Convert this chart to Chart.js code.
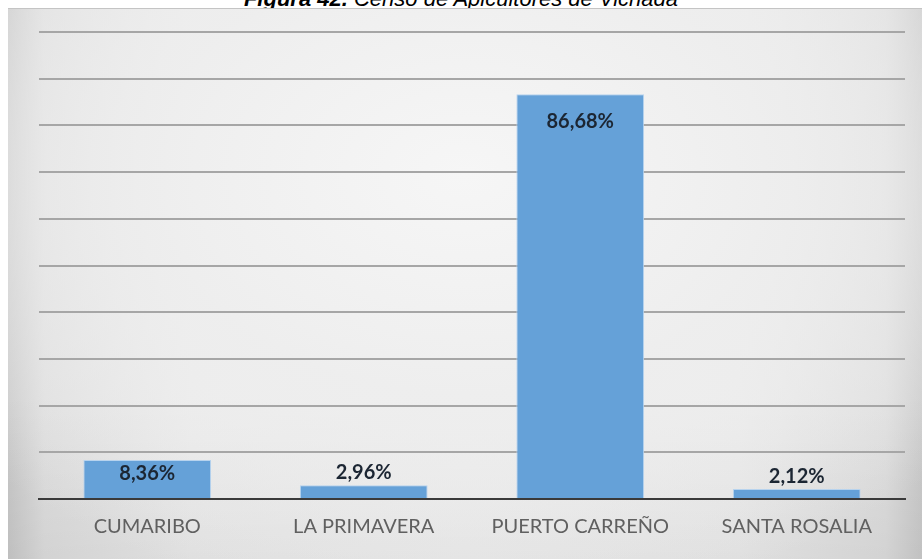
<!DOCTYPE html>
<html>
<head>
<meta charset="utf-8">
<script src="https://cdn.jsdelivr.net/npm/chart.js@4"></script>
<style>
  body {
    margin: 0;
    padding: 0;
    width: 922px;
    height: 559px;
    overflow: hidden;
    background: #ffffff;
    position: relative;
  }
  .title {
    position: absolute;
    left: 0;
    width: 922px;
    top: -14px;
    height: 26px;
    line-height: 26px;
    text-align: center;
    font-family: 'Liberation Sans', Arial, sans-serif;
    font-style: italic;
    font-size: 22px;
    color: #000;
  }
  .chart-box {
    position: absolute;
    left: 8px;
    top: 8px;
    width: 914px;
    height: 551px;
    border-top: 1px solid #c4c4c4;
    box-sizing: border-box;
    background:
      radial-gradient(ellipse 70% 80% at 50% 30%, rgba(246,246,246,1) 0%, rgba(238,238,238,0.9) 50%, rgba(220,220,220,0) 100%),
      linear-gradient(to bottom, rgba(0,0,0,0) 70%, rgba(0,0,0,0.05) 100%),
      linear-gradient(to right, #c9c9c9 0%, #dedede 4%, #ebebeb 20%, #eeeeee 50%, #ebebeb 80%, #dedede 96%, #cbcbcb 100%);
  }
  canvas {
    display: block;
  }
</style>
</head>
<body>
  <div class="title"><b>Figura 42.</b> Censo de Apicultores de Vichada</div>
  <div class="chart-box">
    <canvas id="barChart" width="914" height="550"></canvas>
  </div>
  <script>
    const categories = ['CUMARIBO', 'LA PRIMAVERA', 'PUERTO CARREÑO', 'SANTA ROSALIA'];
    const percentages = [8.36, 2.96, 86.68, 2.12];

    // Excel-style labels: inside the bar end when there is room, above it otherwise
    const barLabels = {
      id: 'barLabels',
      afterDatasetsDraw(chart) {
        const ctx = chart.ctx;
        const meta = chart.getDatasetMeta(0);
        ctx.save();
        ctx.font = 'bold 20px Lato, sans-serif';
        ctx.fillStyle = '#1c2633';
        ctx.textAlign = 'center';
        ctx.textBaseline = 'middle';
        meta.data.forEach((bar, i) => {
          const val = percentages[i];
          const h = bar.base - bar.y;
          let y;
          if (val > 5) {
            y = bar.y + Math.min(27, h * 0.35);
          } else {
            y = bar.y - 13;
          }
          ctx.fillText(val.toFixed(2).replace('.', ',') + '%', bar.x, y);
        });
        ctx.restore();
      }
    };

    const ctx = document.getElementById('barChart').getContext('2d');
    new Chart(ctx, {
      type: 'bar',
      data: {
        labels: categories,
        datasets: [{
          data: percentages,
          backgroundColor: '#65a1d8',
          borderColor: '#b7d3ee',
          borderWidth: 1,
          borderSkipped: 'bottom',
          barPercentage: 0.59,
          categoryPercentage: 1.0
        }]
      },
      options: {
        responsive: false,
        animation: false,
        layout: {
          padding: { left: 31, right: 17, top: 23, bottom: 12 }
        },
        scales: {
          x: {
            grid: { display: false },
            border: { display: true, color: '#3a3a3a', width: 2 },
            ticks: {
              color: '#606060',
              font: { family: 'Lato', size: 20 },
              padding: 8,
              maxRotation: 0,
              autoSkip: false
            }
          },
          y: {
            min: 0,
            max: 100,
            ticks: { display: false, stepSize: 10 },
            grid: { color: '#a6a6a6', lineWidth: 2, drawTicks: false },
            border: { display: false }
          }
        },
        plugins: {
          legend: { display: false },
          tooltip: { enabled: false }
        }
      },
      plugins: [barLabels]
    });
  </script>
</body>
</html>
